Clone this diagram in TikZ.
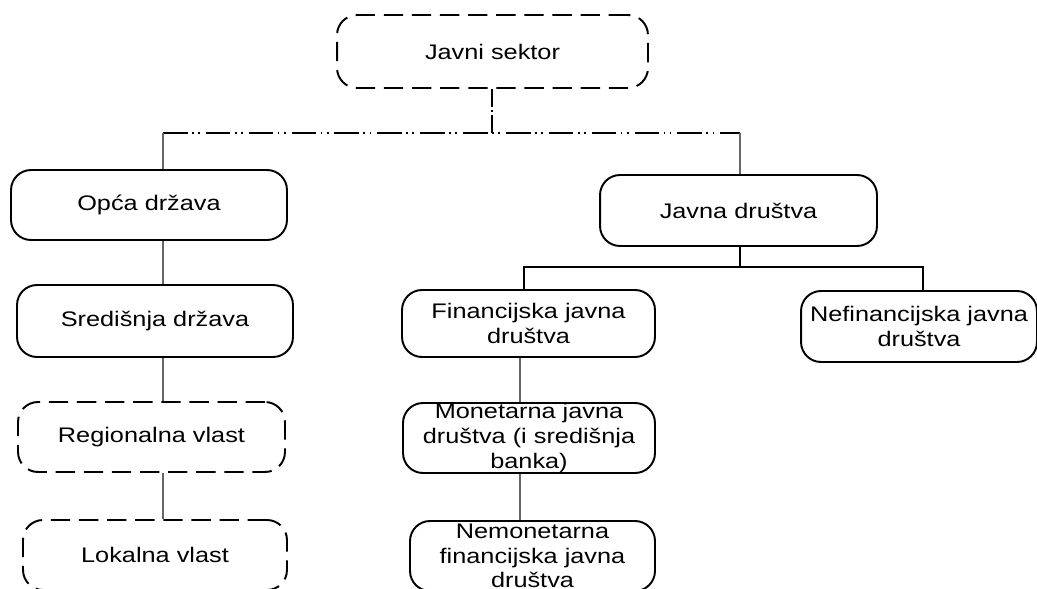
\documentclass[tikz,border=0pt]{standalone}
\usepackage{fontspec}
\setmainfont{Liberation Sans}[FakeStretch=1.2]
\usepackage{tikz}

\begin{document}
\begin{tikzpicture}[x=0.02cm, y=-0.02cm,
    box/.style={draw, line width=1.1pt, rounded corners=0.4cm, align=center, font=\fontsize{12}{14}\selectfont, inner sep=0pt},
    dbox/.style={box, dash pattern=on 11pt off 5pt},
    conn/.style={draw=black!60, line width=0.7pt},
    bus/.style={draw=black, line width=1.1pt},
    dotbus/.style={draw=black, line width=1pt, dash pattern=on 14pt off 2.5pt on 1pt off 2.5pt on 1pt off 3.4pt}]
    \useasboundingbox (0,0) rectangle (1037,588);

    \node[dbox, minimum width=6.22cm, minimum height=1.46cm] (sektor) at (492.5,51.5) {Javni sektor};

    \node[box, minimum width=5.52cm, minimum height=1.40cm] (opca) at (149,205) {Opća država};
    \node[box, minimum width=5.52cm, minimum height=1.44cm] (sred) at (155,321) {Središnja država};
    \node[dbox, minimum width=5.34cm, minimum height=1.40cm] (reg) at (151.5,437) {Regionalna vlast};
    \node[dbox, minimum width=5.28cm, minimum height=1.40cm] (lok) at (155,555) {Lokalna vlast};

    \node[box, minimum width=5.54cm, minimum height=1.42cm] (javna) at (738.5,210.5) {Javna društva};
    \node[box, minimum width=5.06cm, minimum height=1.34cm] (fin) at (528.5,323.5) {Financijska javna\\društva};
    \node[box, minimum width=4.72cm, minimum height=1.42cm] (nefin) at (919,326.5) {Nefinancijska javna\\društva};
    \node[box, minimum width=5.04cm, minimum height=1.40cm] (mon) at (529,438) {Monetarna javna\\društva (i središnja\\banka)};
    \node[box, minimum width=4.90cm, minimum height=1.40cm] (nemon) at (532.5,556) {Nemonetarna\\financijska javna\\društva};

    \coordinate (top) at (492,133);
    \coordinate (busL) at (163,133);
    \coordinate (busR) at (740,133);
    \coordinate (finL) at (524,267);
    \coordinate (finR) at (923,267);
    \coordinate (finM) at (520,0);

    \draw[dotbus, dash pattern=on 10pt off 2pt on 1pt off 2pt on 20pt off 1pt] (sektor.south -| top) -- (top);
    \draw[dotbus] (busL) -- (busR);
    \draw[conn] (busL) -- (busL |- opca.north);
    \draw[conn] (busR) -- (busR |- javna.north);

    \draw[conn] (busL |- opca.south) -- (busL |- sred.north);
    \draw[conn] (busL |- sred.south) -- (busL |- reg.north);
    \draw[conn] (busL |- reg.south) -- (busL |- lok.north);

    \draw[bus] (busR |- javna.south) -- (busR |- finL);
    \draw[bus] (finL |- fin.north) -- (finL) -- (finR) -- (finR |- nefin.north);

    \draw[conn] (finM |- fin.south) -- (finM |- mon.north);
    \draw[conn] (finM |- mon.south) -- (finM |- nemon.north);
\end{tikzpicture}
\end{document}
